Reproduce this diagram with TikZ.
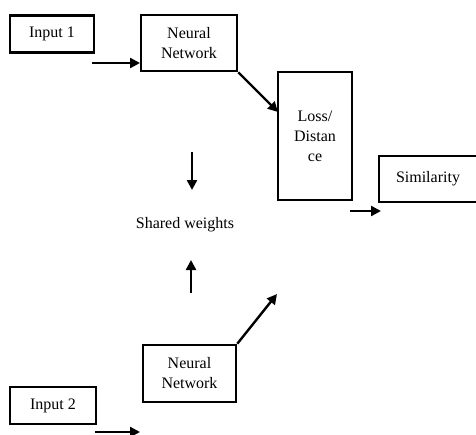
\documentclass[tikz,border=0pt]{standalone}
\usepackage{fontspec}
\setmainfont{Liberation Serif}
\usetikzlibrary{arrows.meta}

\begin{document}
\begin{tikzpicture}[x=1pt,y=-1pt,
  box/.style={draw,line width=2.6pt,align=center,inner sep=0pt,
    font=\fontsize{16}{20}\selectfont},
  flow/.style={line width=2.4pt,-{Triangle[length=10pt,width=10pt]}}]
\useasboundingbox (0,0) rectangle (476,434);
% The boxes
\node [box,minimum width=84,minimum height=37] (in1) at (52,34) {Input 1};
\node [box,minimum width=96,minimum height=56] (nn1) at (189,43) {Neural\\Network};
\node [box,minimum width=74,minimum height=128] (loss) at (315,136) {Loss/\\Distan\\ce};
\node [box,minimum width=98,minimum height=46] (sim) at (428,179) {Similarity};
\node [box,minimum width=93,minimum height=57] (nn2) at (189.5,373.5) {Neural\\Network};
\node [box,minimum width=86,minimum height=37] (in2) at (53,405.5) {Input 2};
% Label in the middle
\node [font=\fontsize{16}{20}\selectfont] (shared) at (185,225) {Shared weights};
% Free ends of the arrows
\coordinate (s1) at (92,63);
\coordinate (e1) at (140,63);
\coordinate (e2) at (278,112);
\coordinate (s3) at (192,152);
\coordinate (e3) at (192,190);
\coordinate (s4) at (191,293);
\coordinate (e4) at (191,260);
\coordinate (e5) at (277,294);
\coordinate (s6) at (350,211);
\coordinate (e6) at (381,211);
\coordinate (s7) at (95,432);
\coordinate (e7) at (140,432);
% Draw the arrows
\draw [flow] (s1) -- (e1);
\draw [flow] (nn1.south east) -- (e2);
\draw [flow] (s3) -- (e3);
\draw [flow] (s4) -- (e4);
\draw [flow] (nn2.north east) -- (e5);
\draw [flow] (s6) -- (e6);
\draw [flow] (s7) -- (e7);
\end{tikzpicture}
\end{document}
